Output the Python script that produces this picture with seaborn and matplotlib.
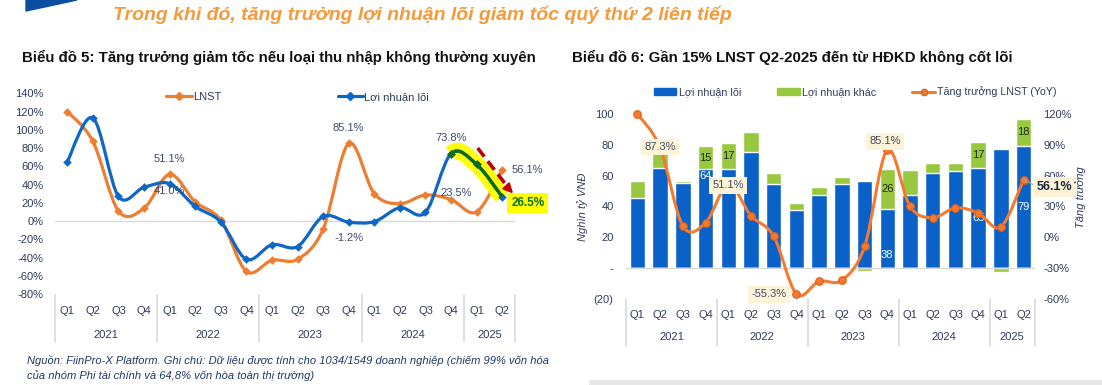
import numpy as np
import pandas as pd
import matplotlib
matplotlib.use("Agg")
import matplotlib.pyplot as plt
import matplotlib.transforms as mtransforms
import seaborn as sns
from matplotlib.path import Path
from matplotlib.patches import PathPatch, Polygon, Rectangle, Patch
from matplotlib.lines import Line2D

# ---- data ----
years = ["2021", "2022", "2023", "2024", "2025"]
quarters_per_year = [4, 4, 4, 4, 2]
quarter_labels = ["Q1", "Q2", "Q3", "Q4"] * 4 + ["Q1", "Q2"]

# chart 5: YoY growth (%)
lnst_growth = [120, 87.3, 11, 14, 51.1, 21, 1, -55.3, -43, -42, -9, 85.1,
               30, 19, 28.5, 23.5, 10, 56.1]
core_growth = [65, 113, 27, 37, 41.0, 16, -1, -42, -26, -28, 5, -1.2,
               -0.7, 14.6, 9.5, 73.8, 62, 26.5]

# chart 6: profit (nghin ty VND)
core_profit = [45.5, 65, 55.3, 64, 64, 75.3, 54.7, 37.5, 47.5, 54.4, 56.8, 38,
               47.5, 62, 63, 65, 77.4, 79]
other_profit = [11, 11, 1.5, 15, 17, 13, 6.7, 4.4, 4.8, 4.4, -1.7, 26,
                16, 6, 5, 17, -2.6, 18]

# ---- style ----
sns.set_theme(style="white")
plt.rcParams["font.family"] = ["Liberation Sans", "DejaVu Sans"]

ORANGE = "#ED7D31"
BLUE5 = "#0E66C6"
BAR_BLUE = "#0A62C9"
BAR_GREEN = "#97C83F"
LINE6 = "#F47A2F"
TXT = "#2F3B5C"
LBL = "#3F4A68"
BOX = "#FDF3D7"

W, H = 1102, 385
fig = plt.figure(figsize=(W / 100, H / 100), dpi=100)


def px_axes(x0, y0, x1, y1):
    return fig.add_axes([x0 / W, 1 - y1 / H, (x1 - x0) / W, (y1 - y0) / H])


def fy(py):
    return 1 - py / H


def smooth_path(xs, ys, i0=0, i1=None):
    # Excel-like smoothed line as cubic bezier segments
    pts = np.column_stack([np.asarray(xs, float), np.asarray(ys, float)])
    n = len(pts)
    if i1 is None:
        i1 = n - 1
    verts, codes = [pts[i0]], [Path.MOVETO]
    for i in range(i0, i1):
        p0, p1 = pts[max(i - 1, 0)], pts[i]
        p2, p3 = pts[i + 1], pts[min(i + 2, n - 1)]
        verts += [p1 + (p2 - p0) / 6, p2 - (p3 - p1) / 6, p2]
        codes += [Path.CURVE4] * 3
    return Path(verts, codes)


def period_axis(ax, q_py, yr_py, sep_top, sep_bot):
    tr = mtransforms.blended_transform_factory(ax.transData, fig.transFigure)
    for i, q in enumerate(quarter_labels):
        ax.text(i, fy(q_py), q, transform=tr, ha="center", va="center",
                fontsize=8, color=TXT)
    edges = np.concatenate([[0], np.cumsum(quarters_per_year)]) - 0.5
    for e in edges:
        ax.add_line(Line2D([e, e], [fy(sep_top), fy(sep_bot)], transform=tr,
                           color="#D9D9D9", lw=1.2, clip_on=False))
    for k, yr in enumerate(years):
        ax.text((edges[k] + edges[k + 1]) / 2, fy(yr_py), yr, transform=tr,
                ha="center", va="center", fontsize=8, color=TXT)


# ---- header ----
fig.add_artist(Polygon([[26 / W, 1], [77 / W, 1], [26 / W, fy(11)]],
                       closed=True, transform=fig.transFigure, color="#0D4DA1"))
fig.text(113 / W, fy(15), "Trong khi đó, tăng trưởng lợi nhuận lõi giảm tốc quý thứ 2 liên tiếp",
         family=["Liberation Sans Narrow", "Liberation Sans"], fontsize=14,
         fontweight="bold", style="italic", color="#F59A3C", va="center")
fig.text(22 / W, fy(57), "Biểu đồ 5: Tăng trưởng giảm tốc nếu loại thu nhập không thường xuyên",
         fontsize=10.8, fontweight="bold", color="#111111", va="center")
fig.text(572 / W, fy(57), "Biểu đồ 6: Gần 15% LNST Q2-2025 đến từ HĐKD không cốt lõi",
         fontsize=10.8, fontweight="bold", color="#111111", va="center")

# ================= chart 5 =================
ax1 = px_axes(54.5, 93.3, 515, 294)
pos = np.arange(len(lnst_growth))
df5 = pd.DataFrame({"pos": pos, "lnst": lnst_growth, "core": core_growth})

ax1.axhline(0, color="#D9D9D9", lw=1, zorder=1)
ax1.add_patch(PathPatch(smooth_path(pos, lnst_growth), fill=False, ec=ORANGE, lw=2.3, zorder=2))
sns.scatterplot(data=df5, x="pos", y="lnst", marker="D", s=16, color=ORANGE,
                edgecolor=ORANGE, ax=ax1, legend=False, zorder=3)
ax1.add_patch(PathPatch(smooth_path(pos, core_growth), fill=False, ec=BLUE5, lw=2.3, zorder=4))
sns.scatterplot(data=df5, x="pos", y="core", marker="D", s=16, color=BLUE5,
                edgecolor=BLUE5, ax=ax1, legend=False, zorder=5)

# highlight of the last three core points
ax1.add_patch(PathPatch(smooth_path(pos, core_growth, 15, 17), fill=False,
                        ec="#FFFF00", lw=12, alpha=0.95, zorder=3.5, capstyle="butt"))
ax1.add_patch(PathPatch(smooth_path(pos, core_growth, 15, 17), fill=False,
                        ec="#0B6B1A", lw=2.4, zorder=6))
sns.scatterplot(data=df5.iloc[15:17], x="pos", y="core", marker="D", s=16,
                color="#0B6B1A", edgecolor="#0B6B1A", ax=ax1, legend=False, zorder=7)
ax1.plot([16.04, 17.25], [80, 36], color="#C00000", lw=2.6, ls=(0, (3, 1.6)), zorder=8)
ax1.annotate("", xy=(17.5, 28), xytext=(17.2, 37), zorder=8,
             arrowprops=dict(arrowstyle="-|>", color="#C00000", lw=1.5, mutation_scale=14))

notes5 = [(4, 68, 51.1), (4, 33, 41.0), (11, 102, 85.1), (11, -18.6, -1.2),
          (15, 91, 73.8), (15.2, 30.7, 23.5), (18.0, 56, 56.1)]
for x, y, v in notes5:
    ax1.text(x, y, f"{v:.1f}%", ha="center", va="center", fontsize=8, color=LBL, zorder=9)
ax1.text(18.0, 20, "26.5%", ha="center", va="center", fontsize=8.5, fontweight="bold",
         color="#0B6B1A", zorder=9,
         bbox=dict(boxstyle="square,pad=0.35", fc="#FFFF00", ec="none"))

ax1.set_xlim(-0.5, 17.5)
ax1.set_ylim(-80, 140)
ax1.set_yticks(np.arange(-80, 141, 20))
ax1.set_yticklabels([f"{t}%" for t in range(-80, 141, 20)])
ax1.set_xticks([])
ax1.set_xlabel("")
ax1.set_ylabel("")
ax1.tick_params(axis="y", length=0, pad=8, labelsize=8, labelcolor=TXT)
sns.despine(ax=ax1, left=True, bottom=True)
period_axis(ax1, 311, 335, 295, 342)

fig.legend([Line2D([], [], color=ORANGE, lw=2.3, marker="D", ms=4),
            Line2D([], [], color=BLUE5, lw=2.3, marker="D", ms=4)],
           ["LNST", "Lợi nhuận lõi"], loc="center left",
           bbox_to_anchor=(166 / W, fy(97)), ncol=2, frameon=False,
           handlelength=2.3, handletextpad=0.1, columnspacing=10.5,
           borderpad=0, borderaxespad=0, fontsize=8, labelcolor=TXT)

# ================= chart 6 =================
ax2 = px_axes(626, 83.2, 1035, 298.8)
period = [f"{q} {y}" for y, n in zip(years, quarters_per_year)
          for q in ["Q1", "Q2", "Q3", "Q4"][:n]]
df6 = pd.DataFrame({"period": period, "core": core_profit, "other": other_profit})
df6["stack_top"] = df6["core"] + df6["other"].clip(lower=0)
df6["other_neg"] = df6["other"].clip(upper=0)

bar_kw = dict(x="period", width=0.68, saturation=1, errorbar=None, ax=ax2, zorder=2)
sns.barplot(data=df6, y="stack_top", color=BAR_GREEN, **bar_kw)
sns.barplot(data=df6, y="core", color=BAR_BLUE, **bar_kw)
sns.barplot(data=df6, y="other_neg", color=BAR_GREEN, **bar_kw)
ax2.axhline(0, color="#D9D9D9", lw=1, zorder=3)

# bar value labels
for i, y in [(3, 59.5), (11, 8.5), (15, None), (17, None)]:
    v = core_profit[i]
    ax2.text(i, v / 2 if y is None else y, f"{v:.0f}", ha="center", va="center",
             fontsize=8, color="white", zorder=4)
for i in [3, 4, 11, 15, 17]:
    ax2.text(i, core_profit[i] + other_profit[i] / 2, f"{other_profit[i]:.0f}",
             ha="center", va="center", fontsize=8, color="#1F2A22", zorder=4)

ax2.set_xlim(-0.5, 17.5)
ax2.set_ylim(-20, 120)
ax2.set_yticks(np.arange(-20, 101, 20))
ax2.set_yticklabels(["(20)", "-", "20", "40", "60", "80", "100"])
ax2.set_xticks([])
ax2.set_xlabel("")
ax2.set_ylabel("")
ax2.tick_params(axis="y", length=0, pad=9, labelsize=8, labelcolor=TXT)
sns.despine(ax=ax2, left=True, bottom=True)
period_axis(ax2, 315, 337, 299, 346)

ax2b = ax2.twinx()
df6["growth"] = lnst_growth
df6["pos"] = np.arange(len(period))
ax2b.add_patch(PathPatch(smooth_path(df6["pos"], lnst_growth), fill=False, ec=LINE6, lw=2.2, zorder=2))
sns.scatterplot(data=df6, x="pos", y="growth", marker="o", s=30, color=LINE6,
                edgecolor="#E0601A", linewidth=0.8, ax=ax2b, legend=False, zorder=3)
ax2b.set_xlim(-0.5, 17.5)
ax2b.set_ylim(-60, 150)
ax2b.set_yticks(np.arange(-60, 121, 30))
ax2b.set_yticklabels([f"{t}%" for t in range(-60, 121, 30)])
ax2b.set_ylabel("")
ax2b.tick_params(axis="y", length=0, pad=6, labelsize=8, labelcolor=TXT)
sns.despine(ax=ax2b, left=True, bottom=True, right=True)

box = dict(boxstyle="square,pad=0.3", fc=BOX, ec="none")
for x, y, v in [(1, 87.7, 87.3), (4, 50.6, 51.1), (5.8, -55.5, -55.3), (10.9, 93.5, 85.1)]:
    ax2b.text(x, y, f"{v:.1f}%", ha="center", va="center", fontsize=8, color=LBL,
              bbox=box, zorder=5)
ax2b.plot([17, 17.6], [56.1, 49], color="#A6A6A6", lw=0.8, zorder=4)
ax2b.text(18.34, 48.7, "56.1%", ha="center", va="center", fontsize=9, fontweight="bold",
          color="#1F2A44", bbox=box, zorder=5)

fig.text(583 / W, fy(207), "Nghìn tỷ VNĐ", rotation=90, style="italic", fontsize=8,
         color=TXT, ha="center", va="center")
fig.text(1081 / W, fy(197), "Tăng trưởng", rotation=90, style="italic", fontsize=8,
         color=TXT, ha="center", va="center")

fig.legend([Patch(color=BAR_BLUE), Patch(color=BAR_GREEN),
            Line2D([], [], color=LINE6, lw=2.2, marker="o", ms=4.5, mec="#E0601A")],
           ["Lợi nhuận lõi", "Lợi nhuận khác", "Tăng trưởng LNST (YoY)"],
           loc="center left", bbox_to_anchor=(654 / W, fy(92)), ncol=3, frameon=False,
           handlelength=2.1, handleheight=0.55, handletextpad=0.2, columnspacing=3.4,
           borderpad=0, borderaxespad=0, fontsize=7.7, labelcolor=TXT)

# ---- footnote & bottom strip ----
fig.text(27 / W, fy(361), "Nguồn: FiinPro-X Platform. Ghi chú: Dữ liệu được tính cho 1034/1549 "
         "doanh nghiệp (chiếm 99% vốn hóa", style="italic", fontsize=8, color="#1F3864", va="center")
fig.text(27 / W, fy(376), "của nhóm Phi tài chính và 64,8% vốn hòa toàn thị trường)",
         style="italic", fontsize=8, color="#1F3864", va="center")
fig.add_artist(Rectangle((589 / W, 0), 1 - 589 / W, 5 / H, transform=fig.transFigure,
                         color="#E7E7E7", lw=0))

fig.savefig("out.png", dpi=100)
